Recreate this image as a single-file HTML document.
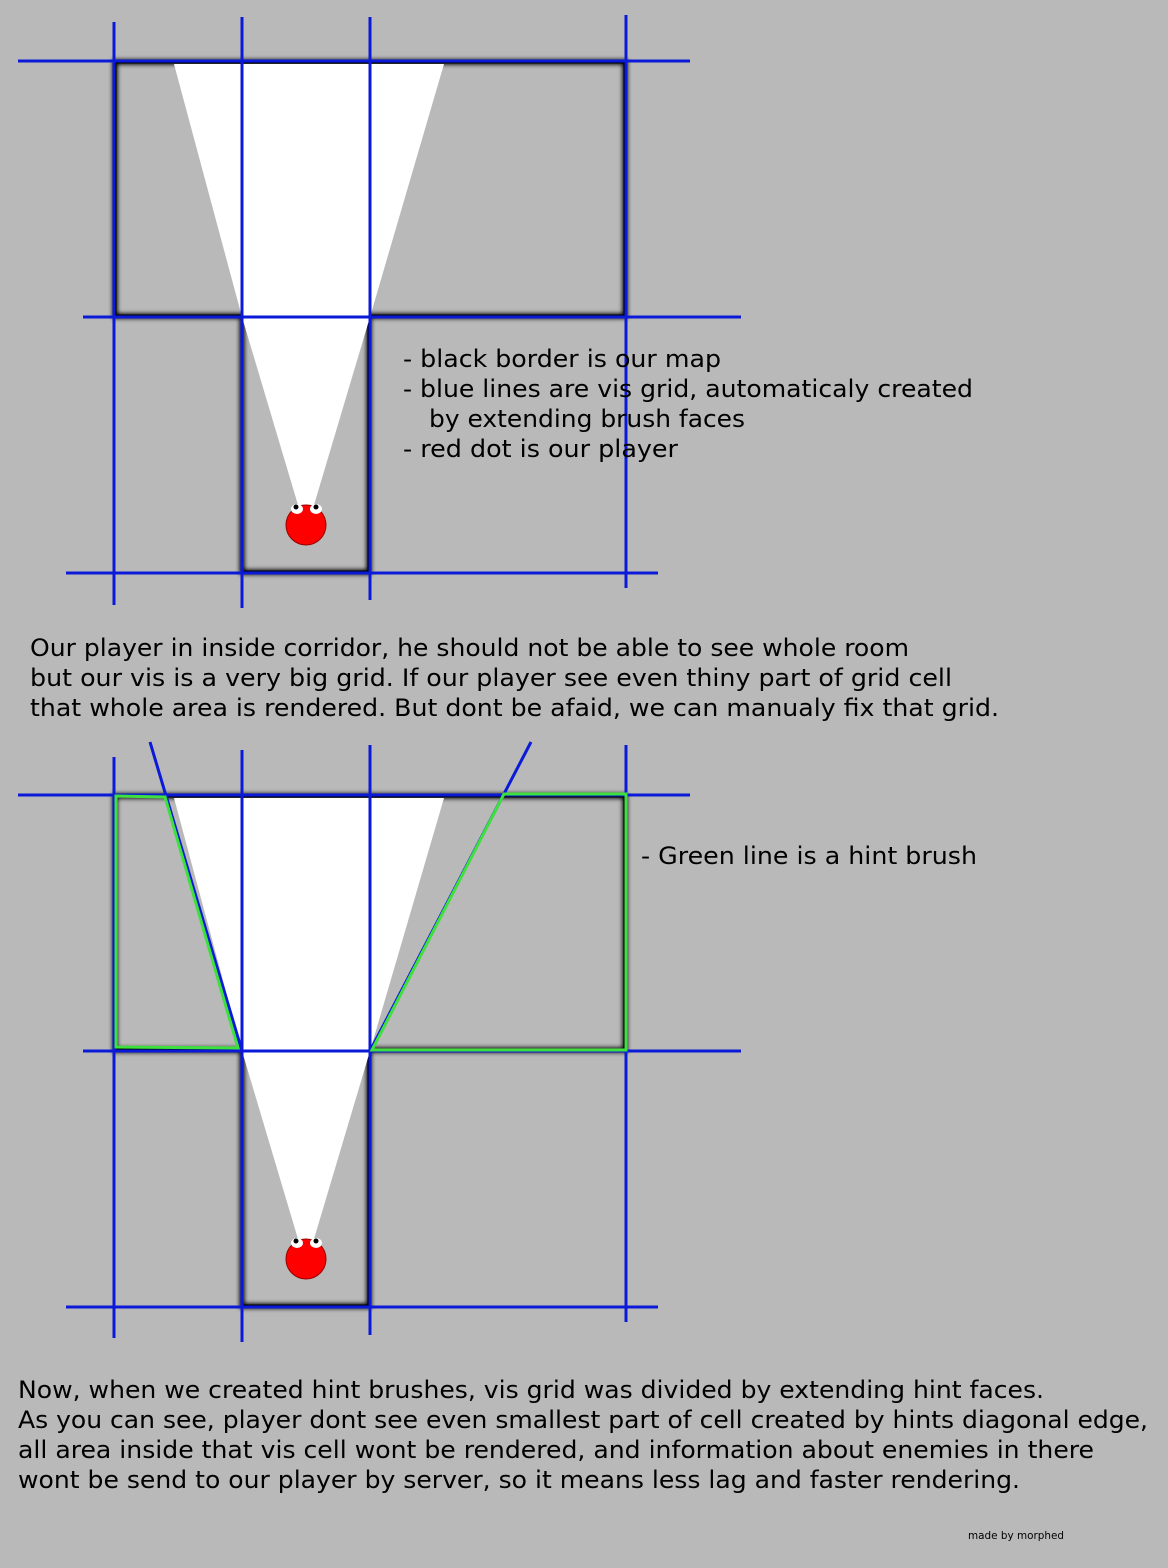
<!DOCTYPE html>
<html><head><meta charset="utf-8"><style>
html,body{margin:0;padding:0;background:#b9b9b9;}
svg{display:block}
text{font-family:"DejaVu Sans","Liberation Sans",sans-serif;fill:#000;}
</style></head><body>
<svg width="1168" height="1568" viewBox="0 0 1168 1568" xmlns="http://www.w3.org/2000/svg">
<defs><filter id="b" x="-10%" y="-10%" width="120%" height="120%"><feGaussianBlur stdDeviation="2"/></filter></defs>
<rect width="1168" height="1568" fill="#b9b9b9"/>
<g id="d1">
<path d="M115 62H625V316H369V572H242V316H115Z" fill="none" stroke="#000" stroke-width="5" filter="url(#b)"/>
<path d="M115 62H625V316H369V572H242V316H115Z" fill="none" stroke="#000" stroke-width="3"/>
<polygon points="174,64 444,64 370,317 314,505 298,505 242,317" fill="#fff"/>
<g stroke="#0a1ad8" stroke-width="3">
<line x1="114" y1="22" x2="114" y2="605"/>
<line x1="242" y1="17" x2="242" y2="608"/>
<line x1="370" y1="17" x2="370" y2="600"/>
<line x1="626" y1="15" x2="626" y2="588"/>
<line x1="18" y1="61" x2="690" y2="61"/>
<line x1="83" y1="317" x2="741" y2="317"/>
<line x1="66" y1="573" x2="658" y2="573"/>
</g>
<circle cx="306" cy="525" r="20" fill="#f00" stroke="#900" stroke-width="1"/>
<ellipse cx="297" cy="509" rx="6" ry="5" fill="#fff"/><ellipse cx="316" cy="509" rx="6" ry="5" fill="#fff"/>
<circle cx="296" cy="507" r="2.5" fill="#000"/><circle cx="316" cy="507" r="2.5" fill="#000"/>
</g>
<g transform="translate(0,734)">
<path d="M115 62H625V316H369V572H242V316H115Z" fill="none" stroke="#000" stroke-width="5" filter="url(#b)"/>
<path d="M115 62H625V316H369V572H242V316H115Z" fill="none" stroke="#000" stroke-width="3"/>
<polygon points="174,64 444,64 370,317 314,505 298,505 242,317" fill="#fff"/>
<g stroke="#0a1ad8" stroke-width="3">
<line x1="114" y1="23" x2="114" y2="604"/>
<line x1="242" y1="16" x2="242" y2="608"/>
<line x1="370" y1="11" x2="370" y2="601"/>
<line x1="626" y1="11" x2="626" y2="588"/>
<line x1="18" y1="61" x2="690" y2="61"/>
<line x1="83" y1="317" x2="741" y2="317"/>
<line x1="66" y1="573" x2="658" y2="573"/>
<line x1="150" y1="8" x2="242" y2="317"/>
<line x1="531" y1="8" x2="370" y2="317"/>
</g>
<g fill="none" stroke="#3ee03e" stroke-width="3">
<polygon points="116,62 165,63 238,314 116,313"/>
<polygon points="504,60 626,60 626,316 372,316"/>
</g>
<circle cx="306" cy="525" r="20" fill="#f00" stroke="#900" stroke-width="1"/>
<ellipse cx="297" cy="509" rx="6" ry="5" fill="#fff"/><ellipse cx="316" cy="509" rx="6" ry="5" fill="#fff"/>
<circle cx="296" cy="507" r="2.5" fill="#000"/><circle cx="316" cy="507" r="2.5" fill="#000"/>
</g>
<g font-size="24">
<text x="403" y="367" textLength="318" lengthAdjust="spacingAndGlyphs">- black border is our map</text>
<text x="403" y="397" textLength="570" lengthAdjust="spacingAndGlyphs">- blue lines are vis grid, automaticaly created</text>
<text x="429" y="427" textLength="316" lengthAdjust="spacingAndGlyphs">by extending brush faces</text>
<text x="403" y="457" textLength="275" lengthAdjust="spacingAndGlyphs">- red dot is our player</text>
<text x="30" y="656" textLength="879" lengthAdjust="spacingAndGlyphs">Our player in inside corridor, he should not be able to see whole room</text>
<text x="30" y="686" textLength="922" lengthAdjust="spacingAndGlyphs">but our vis is a very big grid. If our player see even thiny part of grid cell</text>
<text x="30" y="716" textLength="969" lengthAdjust="spacingAndGlyphs">that whole area is rendered. But dont be afaid, we can manualy fix that grid.</text>
<text x="641" y="864" textLength="336" lengthAdjust="spacingAndGlyphs">- Green line is a hint brush</text>
<text x="18" y="1398" textLength="1026" lengthAdjust="spacingAndGlyphs">Now, when we created hint brushes, vis grid was divided by extending hint faces.</text>
<text x="18" y="1428" textLength="1130" lengthAdjust="spacingAndGlyphs">As you can see, player dont see even smallest part of cell created by hints diagonal edge,</text>
<text x="18" y="1458" textLength="1076" lengthAdjust="spacingAndGlyphs">all area inside that vis cell wont be rendered, and information about enemies in there</text>
<text x="18" y="1488" textLength="1002" lengthAdjust="spacingAndGlyphs">wont be send to our player by server, so it means less lag and faster rendering.</text>
</g>
<text x="968" y="1539" font-size="11" textLength="96" lengthAdjust="spacingAndGlyphs">made by morphed</text>
</svg>
</body></html>
